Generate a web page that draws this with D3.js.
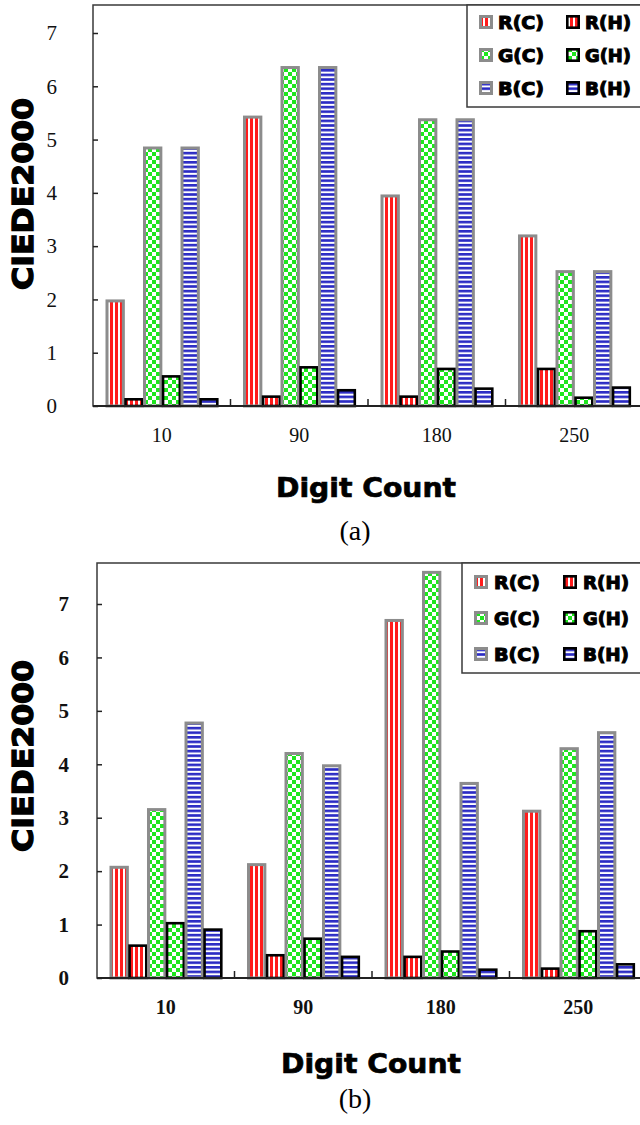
<!DOCTYPE html>
<html>
  <body style="margin:0;background:#fff">
    <script src="https://d3js.org/d3.v7.min.js"></script>
    <script type="text/javascript">
      const width = 640;
      const height = 1125;

      // data
      const digitCounts = ['10', '90', '180', '250'];
      const seriesKeys = ['R(C)', 'R(H)', 'G(C)', 'G(H)', 'B(C)', 'B(H)'];
      const yTicks = [0, 1, 2, 3, 4, 5, 6, 7];

      const rcA = [2.0, 5.45, 3.97, 3.22];
      const rhA = [0.15, 0.2, 0.2, 0.72];
      const gcA = [4.87, 6.38, 5.4, 2.55];
      const ghA = [0.58, 0.75, 0.72, 0.18];
      const bcA = [4.87, 6.38, 5.4, 2.55];
      const bhA = [0.15, 0.32, 0.35, 0.37];

      const rcB = [2.1, 2.15, 6.72, 3.15];
      const rhB = [0.63, 0.45, 0.42, 0.2];
      const gcB = [3.18, 4.23, 7.62, 4.32];
      const ghB = [1.05, 0.76, 0.52, 0.9];
      const bcB = [4.8, 4.0, 3.67, 4.62];
      const bhB = [0.93, 0.42, 0.18, 0.28];

      const fills = ['url(#redStripe)', 'url(#redStripe)', 'url(#greenCheck)', 'url(#greenCheck)', 'url(#blueStripe)', 'url(#blueStripe)'];

      const svg = d3.select('body')
        .append('svg')
        .attr('width', width)
        .attr('height', height)
        .style('display', 'block');

      const defs = svg.append('defs');
      const red = defs.append('pattern').attr('id', 'redStripe')
        .attr('patternUnits', 'userSpaceOnUse').attr('width', 5).attr('height', 5);
      red.append('rect').attr('width', 5).attr('height', 5).attr('fill', '#fff');
      red.append('rect').attr('width', 3).attr('height', 5).attr('fill', '#ff1c1c');

      const green = defs.append('pattern').attr('id', 'greenCheck')
        .attr('patternUnits', 'userSpaceOnUse').attr('width', 8).attr('height', 8);
      green.append('rect').attr('width', 8).attr('height', 8).attr('fill', '#fff');
      green.append('rect').attr('width', 4).attr('height', 4).attr('fill', '#1ee61e');
      green.append('rect').attr('x', 4).attr('y', 4).attr('width', 4).attr('height', 4).attr('fill', '#1ee61e');

      const blue = defs.append('pattern').attr('id', 'blueStripe')
        .attr('patternUnits', 'userSpaceOnUse').attr('width', 5).attr('height', 4.6);
      blue.append('rect').attr('width', 5).attr('height', 4.6).attr('fill', '#fff');
      blue.append('rect').attr('width', 5).attr('height', 2.6).attr('fill', '#2b2bc4');

      renderPanel({
        series: [rcA, rhA, gcA, ghA, bcA, bhA],
        left: 93, top: 5, zeroY: 406, sevenY: 33,
        tickBold: false, tickPad: 36,
        legend: { x: 467, y: 5, h: 102, rowY: [22, 55, 88], colC: 479, colH: 566, textGap: 19 },
        yTitleY: 194, xTitleX: 366, xTitleY: 497, captionY: 540, caption: '(a)',
      });

      renderPanel({
        series: [rcB, rhB, gcB, ghB, bcB, bhB],
        left: 97, top: 563, zeroY: 978, sevenY: 604,
        tickBold: true, tickPad: 28,
        legend: { x: 462, y: 563, h: 110, rowY: [582, 618, 654], colC: 474, colH: 563, textGap: 20 },
        yTitleY: 756, xTitleX: 371, xTitleY: 1073, captionY: 1108, caption: '(b)',
      });

      function renderPanel(cfg) {
        const g = svg.append('g');
        const scaleX = d3.scaleBand()
          .domain(digitCounts)
          .range([cfg.left, cfg.left + 550]);
        const scaleS = d3.scaleBand()
          .domain(seriesKeys)
          .range([12.5, scaleX.bandwidth() - 12.5]);
        const scaleY = d3.scaleLinear()
          .domain([0, 7])
          .range([cfg.zeroY, cfg.sevenY]);
        const bw = scaleS.bandwidth() + 0.6;

        // plot frame
        g.append('rect')
          .attr('x', cfg.left).attr('y', cfg.top)
          .attr('width', 600).attr('height', cfg.zeroY - cfg.top)
          .attr('fill', 'none').attr('stroke', '#3a3a3a').attr('stroke-width', 1.5);

        // bars
        cfg.series.forEach((vals, si) => {
          const isC = si % 2 === 0;
          const sw = isC ? 3 : 2.6;
          g.append('g').selectAll('rect')
            .data(vals)
            .enter()
            .append('rect')
            .attr('x', (d, i) => scaleX(digitCounts[i]) + scaleS(seriesKeys[si]) + sw / 2)
            .attr('y', (d) => scaleY(d) + sw / 2)
            .attr('width', bw - sw)
            .attr('height', (d) => Math.max(0, cfg.zeroY - scaleY(d) - sw / 2))
            .attr('fill', fills[si])
            .attr('stroke', isC ? '#8c8c8c' : '#000')
            .attr('stroke-width', sw);
        });

        // y axis, ticks pointing inward
        const axisY = d3.axisLeft(scaleY)
          .tickValues(yTicks)
          .tickFormat(d3.format('d'))
          .tickSize(-5)
          .tickPadding(cfg.tickPad);
        const ay = g.append('g')
          .attr('transform', `translate(${cfg.left}, 0)`)
          .call(axisY);
        ay.select('.domain').remove();
        ay.selectAll('line').attr('stroke', '#222').attr('stroke-width', 1.5);
        ay.selectAll('text')
          .attr('font-family', '"Liberation Serif", serif')
          .attr('font-size', 21)
          .attr('font-weight', cfg.tickBold ? 'bold' : 'normal')
          .attr('fill', '#111');

        // x axis: labels under bands, separators between them
        const axisX = d3.axisBottom(scaleX)
          .tickSize(0)
          .tickPadding(22);
        const ax = g.append('g')
          .attr('transform', `translate(0, ${cfg.zeroY})`)
          .call(axisX);
        ax.select('.domain').remove();
        ax.selectAll('text')
          .attr('font-family', '"Liberation Serif", serif')
          .attr('font-size', 20)
          .attr('font-weight', cfg.tickBold ? 'bold' : 'normal')
          .attr('fill', '#111');
        g.append('line')
          .attr('x1', cfg.left).attr('x2', width)
          .attr('y1', cfg.zeroY).attr('y2', cfg.zeroY)
          .attr('stroke', '#222').attr('stroke-width', 2);
        g.selectAll('.sep')
          .data(digitCounts.slice(1))
          .enter()
          .append('line')
          .attr('x1', (d) => scaleX(d)).attr('x2', (d) => scaleX(d))
          .attr('y1', cfg.zeroY).attr('y2', cfg.zeroY - 7)
          .attr('stroke', '#222').attr('stroke-width', 1.5);

        // heavy titles
        g.append('text')
          .attr('transform', `translate(33, ${cfg.yTitleY}) rotate(-90)`)
          .attr('text-anchor', 'middle')
          .attr('font-family', '"DejaVu Sans", sans-serif')
          .attr('font-weight', 'bold')
          .attr('font-size', 29)
          .attr('textLength', 192)
          .attr('lengthAdjust', 'spacingAndGlyphs')
          .attr('stroke', '#000').attr('stroke-width', 1.4)
          .text('CIEDE2000');
        g.append('text')
          .attr('x', cfg.xTitleX).attr('y', cfg.xTitleY)
          .attr('text-anchor', 'middle')
          .attr('font-family', '"DejaVu Sans", sans-serif')
          .attr('font-weight', 'bold')
          .attr('font-size', 27)
          .attr('textLength', 180)
          .attr('lengthAdjust', 'spacingAndGlyphs')
          .attr('stroke', '#000').attr('stroke-width', 0.7)
          .text('Digit Count');
        g.append('text')
          .attr('x', 355).attr('y', cfg.captionY)
          .attr('text-anchor', 'middle')
          .attr('font-family', '"Liberation Serif", serif')
          .attr('font-size', 28)
          .text(cfg.caption);

        // legend
        const lg = cfg.legend;
        g.append('rect')
          .attr('x', lg.x).attr('y', lg.y)
          .attr('width', 300).attr('height', lg.h)
          .attr('fill', '#fff').attr('stroke', '#3a3a3a').attr('stroke-width', 1.5);
        seriesKeys.forEach((key, si) => {
          const isC = si % 2 === 0;
          const cx = isC ? lg.colC : lg.colH;
          const cy = lg.rowY[Math.floor(si / 2)];
          const sw = isC ? 3 : 2.6;
          g.append('rect')
            .attr('x', cx + sw / 2).attr('y', cy - 7 + sw / 2)
            .attr('width', 14 - sw).attr('height', 14 - sw)
            .attr('fill', fills[si])
            .attr('stroke', isC ? '#8c8c8c' : '#000')
            .attr('stroke-width', sw);
          g.append('text')
            .attr('x', cx + lg.textGap).attr('y', cy + 7)
            .attr('font-family', '"DejaVu Sans", sans-serif')
            .attr('font-weight', 'bold')
            .attr('font-size', 18)
            .attr('textLength', 46)
            .attr('lengthAdjust', 'spacingAndGlyphs')
            .attr('stroke', '#000').attr('stroke-width', 1.1)
            .text(key);
        });
      }
    </script>
  </body>
</html>
